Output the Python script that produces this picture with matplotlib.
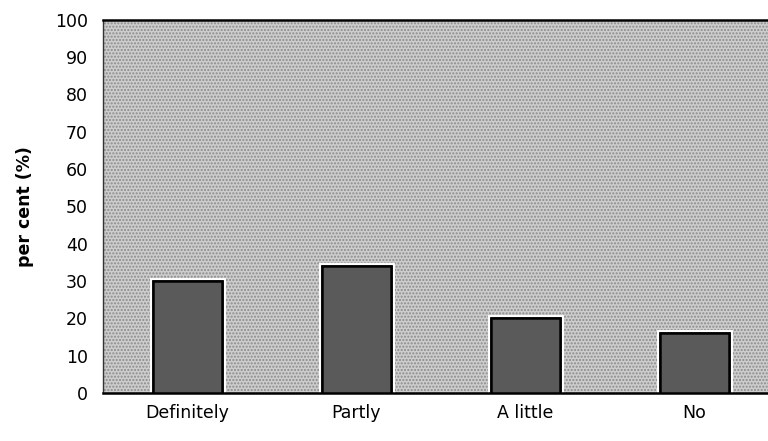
import matplotlib.pyplot as plt
import matplotlib.patheffects as pe

categories = ["Definitely", "Partly", "A little", "No"]
percent = [30, 34, 20, 16]
yticks = [0, 10, 20, 30, 40, 50, 60, 70, 80, 90, 100]

plt.rcParams['font.family'] = ['DejaVu Sans']

fig = plt.figure(figsize=(7.68, 4.41), dpi=100)
ax = fig.add_axes([0.134, 0.109, 0.880, 0.846])

# stippled grey plot area
ax.set_facecolor('#cdcdcd')
ax.add_patch(plt.Rectangle((0, 0), 1, 1, transform=ax.transAxes,
                           facecolor='none', edgecolor='#8a8a8a',
                           hatch='.....', linewidth=0, zorder=0.5))

x = range(len(categories))
# white halo behind each bar, then the bar itself
ax.bar(x, percent, width=0.41, color='#5a5a5a', edgecolor='black',
       linewidth=1.8, zorder=2,
       path_effects=[pe.withStroke(linewidth=5, foreground='white')])
ax.bar(x, percent, width=0.41, color='#5a5a5a', edgecolor='black',
       linewidth=1.8, zorder=3)

ax.set_xlim(-0.5, 3.5)
ax.set_ylim(0, 100)
ax.set_yticks(yticks)
ax.set_xticks(list(x))
ax.set_xticklabels(categories)
ax.tick_params(axis='both', length=0, labelsize=12.5)
ax.tick_params(axis='y', pad=11)
ax.tick_params(axis='x', pad=8)

ax.set_ylabel('per cent (%)', fontsize=12.5, fontweight='bold', labelpad=15)

for side in ['top', 'bottom']:
    ax.spines[side].set_linewidth(1.8)
ax.spines['left'].set_linewidth(1.0)
ax.spines['left'].set_color('#333333')

fig.savefig('out.png', dpi=100)
